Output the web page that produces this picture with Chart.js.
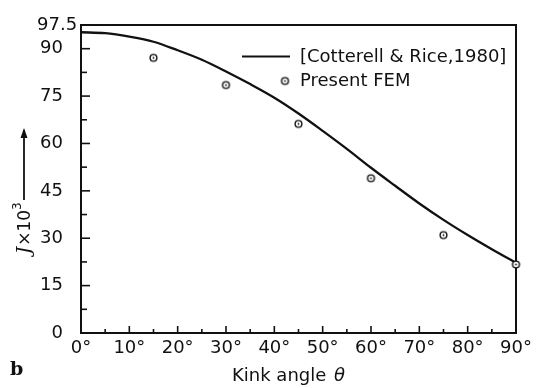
<!DOCTYPE html>
<html>
<head>
<meta charset="utf-8">
<script src="https://cdn.jsdelivr.net/npm/chart.js@4.4.1/dist/chart.umd.min.js"></script>
<style>
  html, body { margin: 0; background: #fff; }
  #wrap { width: 538px; height: 388px; }
</style>
</head>
<body>
<div id="wrap"><canvas id="kinkChart"></canvas></div>
<script>
// Cotterell & Rice (1980) curve, every 5 degrees
const theoryAngles = [0, 5, 10, 15, 20, 25, 30, 35, 40, 45, 50, 55, 60, 65, 70, 75, 80, 85, 90];
const theoryJ = [95.2, 94.9, 93.8, 92.2, 89.5, 86.5, 82.8, 78.8, 74.5, 69.5, 64.0, 58.3, 52.3, 46.6, 41.0, 35.8, 31.0, 26.5, 22.2];

// present FEM results
const femAngles = [15, 30, 45, 60, 75, 90];
const femJ = [87.1, 78.5, 66.2, 49.0, 31.0, 21.7];

const xTicks = [0, 10, 20, 30, 40, 50, 60, 70, 80, 90];
const yTickLabels = [0, 15, 30, 45, 60, 75, 90, 97.5];

const ink = "#111";
const font = "DejaVu Sans";

// small open circle with a dot in the middle
function ringDot() {
  const c = document.createElement("canvas");
  c.width = 11; c.height = 11;
  const g = c.getContext("2d");
  g.fillStyle = "#fff";
  g.beginPath(); g.arc(5.5, 5.5, 3.4, 0, Math.PI * 2); g.fill();
  g.strokeStyle = ink; g.lineWidth = 1.4; g.stroke();
  g.fillStyle = ink;
  g.beginPath(); g.arc(5.5, 5.5, 0.9, 0, Math.PI * 2); g.fill();
  return c;
}
const dotImg = ringDot();

const decor = {
  id: "decor",
  beforeDatasetsDraw(chart) {
    const { ctx, chartArea: a } = chart;
    // top and right frame (under the marks)
    ctx.save();
    ctx.strokeStyle = ink;
    ctx.lineWidth = 2;
    ctx.beginPath();
    ctx.moveTo(a.left, a.top); ctx.lineTo(a.right, a.top); ctx.lineTo(a.right, a.bottom);
    ctx.stroke();
    ctx.restore();
  },
  afterDatasetsDraw(chart) {
    const { ctx, chartArea: a, scales: { x, y } } = chart;
    ctx.save();
    ctx.strokeStyle = ink;
    ctx.fillStyle = ink;

    // inward ticks
    ctx.lineWidth = 1.6;
    for (let v = 0; v <= 97.5; v += 7.5) {
      const py = y.getPixelForValue(v);
      const len = v % 15 === 0 ? 9 : 6;
      ctx.beginPath(); ctx.moveTo(a.left, py); ctx.lineTo(a.left + len, py); ctx.stroke();
    }
    for (let v = 5; v < 90; v += 5) {
      const px = x.getPixelForValue(v);
      const len = v % 10 === 0 ? 7 : 4;
      ctx.beginPath(); ctx.moveTo(px, a.bottom); ctx.lineTo(px, a.bottom - len); ctx.stroke();
    }

    // y tick labels
    ctx.font = "18px " + font;
    ctx.textBaseline = "middle";
    yTickLabels.forEach(v => {
      const py = y.getPixelForValue(v);
      if (v === 97.5) {
        ctx.textAlign = "left";
        ctx.fillText("97.5", 37, py);
      } else {
        ctx.textAlign = "right";
        ctx.fillText(String(v), 63, py);
      }
    });

    // x axis title
    ctx.textAlign = "left";
    ctx.font = "18px " + font;
    const kt = "Kink angle ";
    const kw = ctx.measureText(kt).width;
    const kx = 232;
    ctx.fillText(kt, kx, 376);
    ctx.font = "italic 18px " + font;
    ctx.fillText("\u03B8", kx + kw + 2, 376);

    // panel letter
    ctx.font = "bold 19px 'DejaVu Serif'";
    ctx.fillText("b", 10, 370);

    // y axis title, rotated, with arrow
    ctx.save();
    ctx.translate(25, 254);
    ctx.rotate(-Math.PI / 2);
    ctx.textAlign = "left";
    ctx.textBaseline = "middle";
    ctx.font = "italic 18px 'DejaVu Serif'";
    ctx.fillText("J", 0, 0);
    let cx = ctx.measureText("J").width + 1;
    ctx.font = "17px " + font;
    ctx.fillText("\u00D710", cx, 1);
    cx += ctx.measureText("\u00D710").width;
    ctx.font = "12px " + font;
    ctx.fillText("3", cx, -7);
    ctx.lineWidth = 1.8;
    ctx.beginPath(); ctx.moveTo(cx + 10, -1); ctx.lineTo(124, -1); ctx.stroke();
    ctx.beginPath();
    ctx.moveTo(126, -1); ctx.lineTo(116, -4.5); ctx.lineTo(116, 2.5); ctx.closePath(); ctx.fill();
    ctx.restore();

    // legend
    const ds = chart.data.datasets;
    ctx.font = "18px " + font;
    ctx.textAlign = "left";
    ctx.textBaseline = "middle";
    ctx.lineWidth = 2.2;
    ctx.beginPath(); ctx.moveTo(242, 56.5); ctx.lineTo(290, 56.5); ctx.stroke();
    ctx.fillText(ds[0].label, 300, 57);
    ctx.drawImage(dotImg, 285 - 5.5, 81 - 5.5);
    ctx.fillText(ds[1].label, 300, 81);

    ctx.restore();
  }
};

new Chart(document.getElementById("kinkChart"), {
  type: "scatter",
  data: {
    datasets: [
      {
        label: "[Cotterell & Rice,1980]",
        data: theoryAngles.map((a, i) => ({ x: a, y: theoryJ[i] })),
        showLine: true,
        borderColor: ink,
        borderWidth: 2.3,
        pointRadius: 0,
        cubicInterpolationMode: "monotone",
        order: 2
      },
      {
        label: "Present FEM",
        data: femAngles.map((a, i) => ({ x: a, y: femJ[i] })),
        pointStyle: dotImg,
        pointRadius: 4,
        clip: false,
        order: 1
      }
    ]
  },
  options: {
    responsive: true,
    maintainAspectRatio: false,
    animation: false,
    layout: { padding: { top: 25, right: 22, left: 0, bottom: 0 } },
    plugins: { legend: { display: false }, tooltip: { enabled: false } },
    scales: {
      x: {
        type: "linear",
        min: 0,
        max: 90,
        afterFit: s => { s.height = 55; },
        afterBuildTicks: s => { s.ticks = xTicks.map(v => ({ value: v })); },
        grid: { drawOnChartArea: false, drawTicks: false },
        border: { display: true, color: ink, width: 2 },
        ticks: {
          padding: 5,
          color: ink,
          font: { family: font, size: 18 },
          maxRotation: 0,
          callback: v => v + "\u00B0"
        }
      },
      y: {
        min: 0,
        max: 97.5,
        afterFit: s => { s.width = 81; },
        grid: { drawOnChartArea: false, drawTicks: false },
        border: { display: true, color: ink, width: 2 },
        ticks: { display: false }
      }
    }
  },
  plugins: [decor]
});
</script>
</body>
</html>
